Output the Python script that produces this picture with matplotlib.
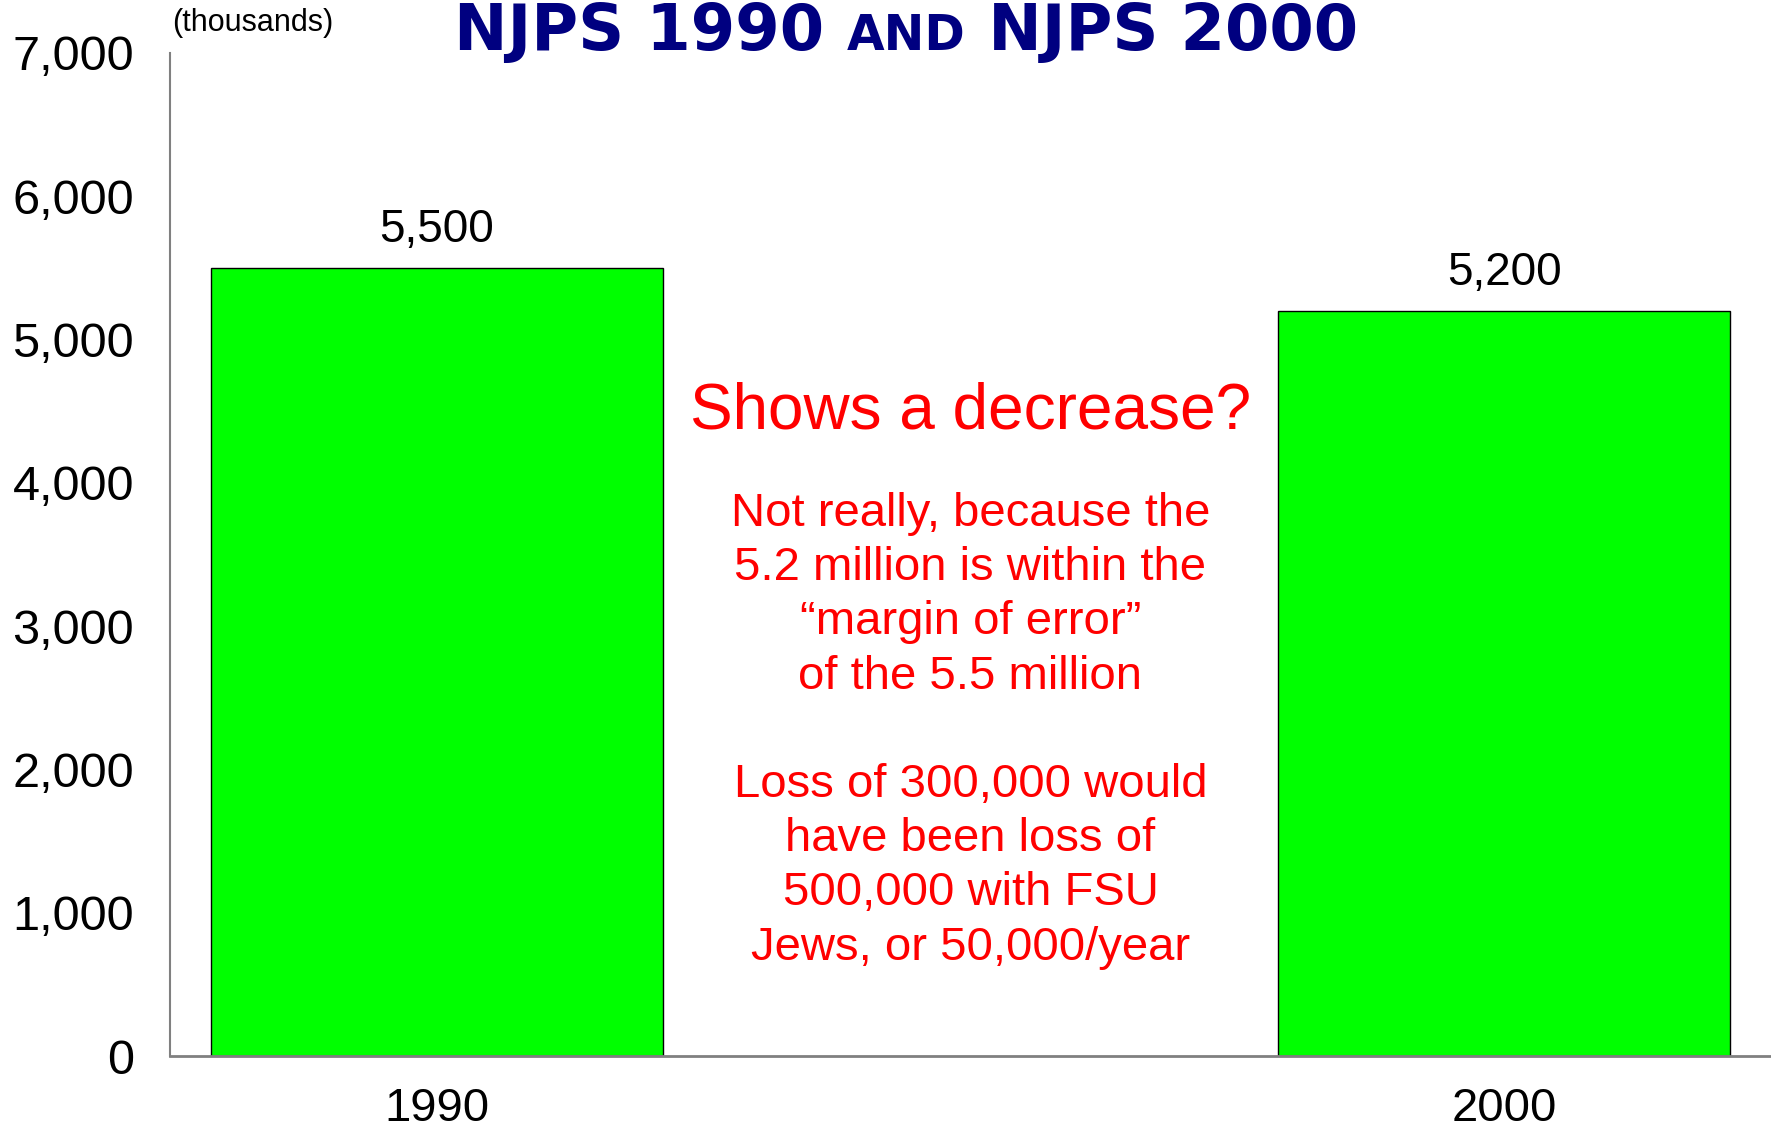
import matplotlib
matplotlib.use('Agg')
import matplotlib.pyplot as plt

years = ['1990', '2000']
values = [5500, 5200]
value_labels = ['5,500', '5,200']
yticks = [0, 1000, 2000, 3000, 4000, 5000, 6000, 7000]
ytick_labels = ['0', '1,000', '2,000', '3,000', '4,000', '5,000', '6,000', '7,000']

plt.rcParams['font.family'] = ['Liberation Sans', 'DejaVu Sans']

fig = plt.figure(figsize=(17.71, 11.30), dpi=100)
ax = fig.add_axes([170 / 1771, 1 - 1056 / 1130, 1 - 170 / 1771, (1056 - 53) / 1130])

x = [0, 1]
ax.bar(x, values, width=0.424, color='#00ff00', edgecolor='black', linewidth=1)
ax.set_xlim(-0.25, 1.25)
ax.set_ylim(0, 7000)

for xi, v, lab in zip(x, values, value_labels):
    ax.text(xi, v + 110, lab, ha='center', va='bottom', fontsize=33)

ax.set_xticks(x)
ax.set_xticklabels(years, fontsize=34)
ax.set_yticks(yticks)
ax.set_yticklabels(ytick_labels, fontsize=35)
ax.tick_params(length=0)
ax.tick_params(axis='y', pad=26)
ax.tick_params(axis='x', pad=22)
for s in ['top', 'right']:
    ax.spines[s].set_visible(False)
ax.spines['left'].set_color('#808080')
ax.spines['left'].set_linewidth(1.5)
ax.spines['bottom'].set_color('#808080')
ax.spines['bottom'].set_linewidth(2)

fig.text(152 * 1.1295 / 1771, 1 - 20 * 1.1295 / 1130, '(thousands)', fontsize=22,
         ha='left', va='center')

# red annotation
ax.text(0.5, 4495, 'Shows a decrease?', color='red', fontsize=46,
        ha='center', va='center')
ax.text(0.5, 2270,
        'Not really, because the\n5.2 million is within the\n\u201cmargin of error\u201d\nof the 5.5 million\n\n'
        'Loss of 300,000 would\nhave been loss of\n500,000 with FSU\nJews, or 50,000/year',
        color='red', fontsize=34, ha='center', va='center', linespacing=1.3)

# title in faux small caps
navy = '#000080'
parts = [('NJPS 1990 ', 46), ('AND', 35), (' NJPS 2000', 46)]
fig.canvas.draw()
renderer = fig.canvas.get_renderer()
texts = []
for s, size in parts:
    t = fig.text(0, 1 - 50 / 1130, s, fontsize=size, fontweight='bold', color=navy,
                 ha='left', va='baseline', family='DejaVu Sans')
    texts.append(t)
widths = [t.get_window_extent(renderer).width for t in texts]
total = sum(widths)
start = 906 - total / 2
for t, w in zip(texts, widths):
    t.set_x(start / 1771)
    start += w

fig.savefig('out.png', dpi=100)
